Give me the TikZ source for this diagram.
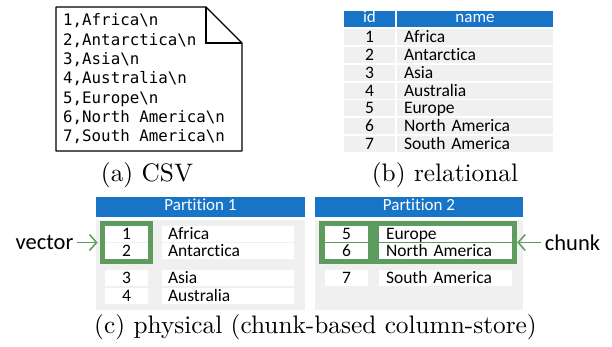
\documentclass[tikz,border=0pt]{standalone}
\usepackage{fontspec}
\newfontfamily\calibri[Ligatures=NoCommon]{Carlito}
\newfontfamily\consolas{DejaVu Sans Mono}
\newfontfamily\capfont{lmroman10-regular}[Extension=.otf]
\usetikzlibrary{arrows.meta}
\definecolor{hdrblue}{HTML}{1874C6}
\definecolor{rowgray}{HTML}{F0F0F0}
\definecolor{chunkgreen}{HTML}{5E9B5E}

\begin{document}
\begin{tikzpicture}[x=1pt,y=-1pt,
        cell/.style={inner sep=0pt, minimum height=16pt, text height=13.5pt, text depth=2.5pt,
            font=\calibri\fontsize{17.5}{20}\selectfont},
        hdr/.style={cell, fill=hdrblue, text=white, text height=12pt, text depth=4pt,
            font=\calibri\fontsize{17}{20}\selectfont},
        row/.style={cell, fill=rowgray},
        slot/.style={cell, fill=white},
        namecell/.style={inner xsep=7pt, text width=#1, align=left},
        csvline/.style={anchor=base west, inner sep=0pt, font=\consolas\fontsize{15.8}{18}\selectfont},
        subcap/.style={font=\capfont\fontsize{25.3}{30}\selectfont},
        callout/.style={font=\calibri\fontsize{22.5}{26}\selectfont},
        pointer/.style={chunkgreen, line width=1.5pt, -{Straight Barb[length=7pt,width=16pt]}}]
        \useasboundingbox (0,0) rectangle (612,347);

        % (a) csv file
        \draw[line width=1.3pt, line join=round] (56,7) -- (206,7) -- (242,43) -- (242,151) -- (56,151) -- cycle;
        \draw[line width=1.3pt] (206,7) -- (206,43) -- (242,43);
        \foreach \i/\c in {1/Africa,2/Antarctica,3/Asia,4/Australia,5/Europe,6/North America,7/South America} {
            \node[csvline] (csv\i) at (63,{6.7+19.3*\i}) {\i,\c\textbackslash n};
        }
        \node[subcap] (capa) at (147,175) {(a) CSV};

        % (b) relational table
        \node[hdr, minimum width=51pt] (idhead) at (369.5,19) {id};
        \node[hdr, minimum width=156pt] (namehead) at (475,19) {name};
        \foreach \i/\c in {1/Africa,2/Antarctica,3/Asia,4/Australia,5/Europe,6/North America,7/South America} {
            \node[row, minimum width=51pt] (relid\i) at (369.5,{19.2+17.85*\i}) {\i};
            \node[row, namecell=142pt] (relname\i) at (475,{19.2+17.85*\i}) {\c};
        }
        \node[subcap] (capb) at (445,175) {(b) relational};

        % (c) partitions
        \node[hdr, minimum width=209pt, minimum height=20pt] (p1head) at (200.5,207) {Partition 1};
        \node[hdr, minimum width=208pt, minimum height=20pt] (p2head) at (419,207) {Partition 2};
        \node[fill=rowgray, inner sep=0pt, minimum width=209pt, minimum height=90pt] (p1body) at (200.5,265) {};
        \node[fill=rowgray, inner sep=0pt, minimum width=208pt, minimum height=90pt] (p2body) at (419,265) {};
        \node[fill=chunkgreen, inner sep=0pt, minimum width=198pt, minimum height=43pt] (chunk) at (418,242.5) {};
        \foreach \i/\y/\c in {1/233.5/Africa,2/251/Antarctica,3/277.5/Asia,4/295.5/Australia} {
            \node[slot, minimum width=43pt] (p1id\i) at (126.5,\y) {\i};
            \node[slot, inner xsep=6pt, text width=120pt, align=left] (p1name\i) at (228,\y) {\c};
        }
        \foreach \i/\y/\c in {5/233.5/Europe,6/251/North America,7/277.5/South America} {
            \node[slot, minimum width=43pt] (p2id\i) at (346.5,\y) {\i};
            \node[slot, namecell=119pt] (p2name\i) at (445.5,\y) {\c};
        }
        \node[draw=chunkgreen, line width=5pt, inner sep=0pt, minimum width=48pt, minimum height=38pt] (vbox) at (126.5,242.5) {};

        \node[callout] (vector) at (44.5,242.5) {vector};
        \node[callout] (chunklabel) at (572.5,242.5) {chunk};
        \draw[pointer, shorten >=2.5pt] (vector.east) -- (vbox.west);
        \draw[pointer] (chunklabel.west) -- (chunk.east);

        \node[subcap] (capc) at (315.5,327) {(c) physical (chunk-based column-store)};
\end{tikzpicture}
\end{document}
